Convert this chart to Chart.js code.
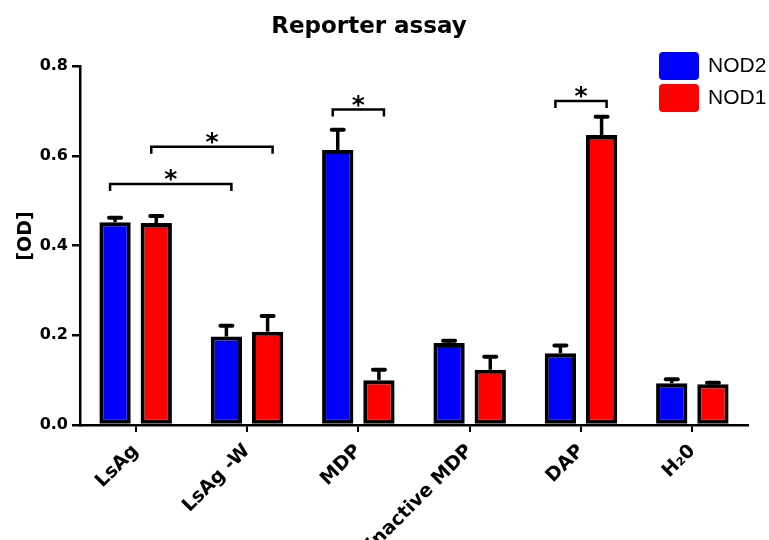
<!DOCTYPE html>
<html>
<head>
<meta charset="utf-8">
<script src="https://cdn.jsdelivr.net/npm/chart.js@4.4.0/dist/chart.umd.min.js"></script>
<style>
  body { margin: 0; background: #fff; }
  #wrap { width: 769px; height: 540px; }
</style>
</head>
<body>
<div id="wrap"><canvas id="reporterChart" width="769" height="540"></canvas></div>
<script>
// values
const categories = ["LsAg", "LsAg -W", "MDP", "inactive MDP", "DAP", "H\u20820"];
const nod2Values = [0.452, 0.197, 0.613, 0.183, 0.160, 0.093];
const nod2Errors = [0.010, 0.024, 0.045, 0.005, 0.017, 0.009];
const nod1Values = [0.450, 0.208, 0.100, 0.123, 0.646, 0.091];
const nod1Errors = [0.016, 0.035, 0.023, 0.029, 0.041, 0.003];
const yTicks = [0, 0.2, 0.4, 0.6, 0.8];

// significance brackets: [category, dataset] at each end, height in OD units
const sigBrackets = [
  { from: [0, 0], to: [1, 0], level: 0.537, label: "*" },
  { from: [0, 1], to: [1, 1], level: 0.620, label: "*" },
  { from: [2, 0], to: [2, 1], level: 0.703, label: "*" },
  { from: [4, 0], to: [4, 1], level: 0.722, label: "*" },
];

const errors = [nod2Errors, nod1Errors];
const boldFont = "'DejaVu Sans', sans-serif";

const extrasPlugin = {
  id: "extras",
  afterDatasetsDraw(chart) {
    const ctx = chart.ctx;
    const yScale = chart.scales.y;
    ctx.save();
    ctx.strokeStyle = "#000";
    ctx.fillStyle = "#000";

    // error bars (upper only)
    chart.data.datasets.forEach((ds, di) => {
      const meta = chart.getDatasetMeta(di);
      meta.data.forEach((bar, i) => {
        const yErr = yScale.getPixelForValue(ds.data[i] + errors[di][i]);
        ctx.lineWidth = 3.5;
        ctx.lineCap = "butt";
        ctx.beginPath();
        ctx.moveTo(bar.x, bar.y);
        ctx.lineTo(bar.x, yErr);
        ctx.stroke();
        ctx.lineWidth = 4;
        ctx.lineCap = "round";
        ctx.beginPath();
        ctx.moveTo(bar.x - 6, yErr);
        ctx.lineTo(bar.x + 6, yErr);
        ctx.stroke();
      });
    });

    // brackets with asterisks
    ctx.lineCap = "butt";
    sigBrackets.forEach((b) => {
      const a = chart.getDatasetMeta(b.from[1]).data[b.from[0]];
      const c = chart.getDatasetMeta(b.to[1]).data[b.to[0]];
      const x1 = a.x - 5;
      const x2 = c.x + 5;
      const y = yScale.getPixelForValue(b.level);
      ctx.lineWidth = 2.5;
      ctx.beginPath();
      ctx.moveTo(x1, y + 7);
      ctx.lineTo(x1, y);
      ctx.lineTo(x2, y);
      ctx.lineTo(x2, y + 7);
      ctx.stroke();
      ctx.font = "bold 25px " + boldFont;
      ctx.textAlign = "center";
      ctx.textBaseline = "alphabetic";
      ctx.fillText(b.label, (x1 + x2) / 2, y + 3);
    });

    // title
    ctx.font = "bold 23px " + boldFont;
    ctx.textAlign = "center";
    ctx.textBaseline = "alphabetic";
    ctx.fillText("Reporter assay", 369, 33);

    // y axis title, sits a bit above the axis middle in the original
    ctx.save();
    ctx.translate(26, 236);
    ctx.rotate(-Math.PI / 2);
    ctx.font = "bold 19px " + boldFont;
    ctx.textBaseline = "middle";
    ctx.fillText("[OD]", 0, 0);
    ctx.restore();

    // legend
    chart.data.datasets.forEach((ds, di) => {
      const top = 52 + di * 32;
      ctx.fillStyle = ds.backgroundColor;
      ctx.beginPath();
      ctx.roundRect(659, top, 40, 28, 4);
      ctx.fill();
      ctx.fillStyle = "#000";
      ctx.font = "21px 'Liberation Sans', Arial, sans-serif";
      ctx.textAlign = "left";
      ctx.fillText(ds.label, 708, top + 20);
    });
    ctx.restore();
  },
};

new Chart(document.getElementById("reporterChart"), {
  type: "bar",
  data: {
    labels: categories,
    datasets: [
      {
        label: "NOD2",
        data: nod2Values,
        backgroundColor: "#0000ff",
        borderColor: "#000",
        borderWidth: 4,
        borderSkipped: false,
      },
      {
        label: "NOD1",
        data: nod1Values,
        backgroundColor: "#ff0000",
        borderColor: "#000",
        borderWidth: 4,
        borderSkipped: false,
      },
    ],
  },
  options: {
    responsive: false,
    animation: false,
    categoryPercentage: 0.74,
    barPercentage: 0.76,
    layout: { padding: { top: 66, right: 21, bottom: 0, left: 0 } },
    plugins: {
      legend: { display: false },
      title: { display: false },
      tooltip: { enabled: false },
    },
    scales: {
      x: {
        afterFit: (s) => { s.height = 115; },
        grid: {
          offset: false,
          drawOnChartArea: false,
          tickLength: 7,
          lineWidth: 2,
          color: "#000",
        },
        border: { display: true, color: "#000", width: 2.5 },
        ticks: {
          minRotation: 45,
          maxRotation: 45,
          padding: 8,
          color: "#000",
          font: { family: boldFont, size: 19, weight: "bold" },
        },
      },
      y: {
        min: 0,
        max: 0.8,
        afterFit: (s) => { s.width = 80; },
        afterBuildTicks: (s) => { s.ticks = yTicks.map((v) => ({ value: v })); },
        grid: {
          drawOnChartArea: false,
          tickLength: 8,
          lineWidth: 2.5,
          color: "#000",
        },
        border: { display: true, color: "#000", width: 2.5 },
        ticks: {
          padding: 4,
          color: "#000",
          font: { family: boldFont, size: 16, weight: "bold" },
          callback: (v) => v.toFixed(1),
        },
      },
    },
  },
  plugins: [extrasPlugin],
});
</script>
</body>
</html>
